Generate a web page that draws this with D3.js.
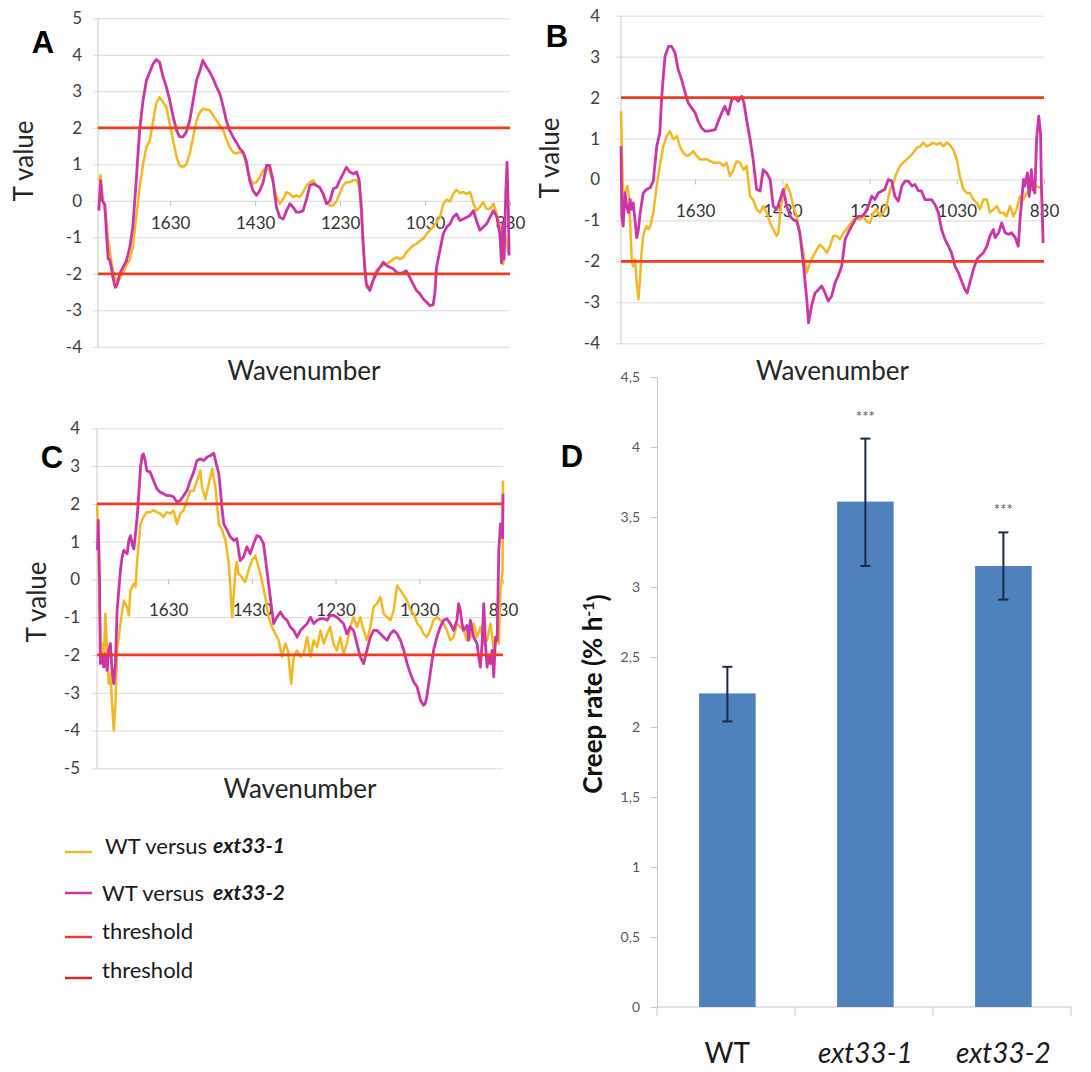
<!DOCTYPE html>
<html>
<head>
<meta charset="utf-8">
<script src="https://cdn.jsdelivr.net/npm/d3@7"></script>
<style>
  body { margin: 0; background: #fff; }
  svg { display: block; }
  text { font-family: Lato, "Open Sans", sans-serif; }
</style>
</head>
<body>
<div id="fig"></div>
<script>
// ---- data ----------------------------------------------------------------
// [wavenumber (cm-1), T value]
const aExt1 = [[1798,0.55],[1794,0.7],[1788,0],[1782,-0.36],[1776,-1.09],[1773,-1.27],[1769,-1.64],[1765,-1.9],[1758,-2.18],[1753,-2.23],[1747,-2.1],[1741,-1.96],[1733,-1.77],[1725,-1.6],[1718,-1.27],[1710,-0.45],[1702,0.37],[1694,1.0],[1686,1.47],[1678,1.65],[1670,2.2],[1663,2.66],[1655,2.84],[1647,2.7],[1639,2.57],[1631,2.1],[1623,1.65],[1615,1.2],[1608,0.97],[1600,0.92],[1592,1.0],[1584,1.29],[1576,1.75],[1568,2.2],[1560,2.43],[1553,2.52],[1545,2.5],[1537,2.48],[1529,2.34],[1521,2.2],[1513,2.07],[1505,1.93],[1498,1.7],[1490,1.47],[1482,1.33],[1474,1.29],[1466,1.33],[1458,1.29],[1451,1.0],[1443,0.65],[1435,0.47],[1427,0.51],[1419,0.65],[1411,0.83],[1403,0.92],[1396,0.83],[1388,0.51],[1380,0.1],[1372,-0.08],[1364,0.05],[1356,0.24],[1348,0.19],[1341,0.1],[1333,0.15],[1325,0.1],[1317,0.24],[1309,0.42],[1301,0.51],[1293,0.56],[1286,0.42],[1278,0.37],[1270,0.19],[1262,-0.04],[1254,-0.13],[1246,-0.13],[1238,0],[1231,0.19],[1223,0.42],[1215,0.51],[1207,0.51],[1199,0.56],[1191,0.56],[1185,0.37],[1180,-0.36],[1176,-1.18],[1172,-1.9],[1168,-2.37],[1160,-2.41],[1152,-2.14],[1144,-1.9],[1136,-1.82],[1128,-1.77],[1121,-1.73],[1113,-1.68],[1105,-1.6],[1097,-1.55],[1089,-1.6],[1081,-1.55],[1074,-1.41],[1066,-1.32],[1058,-1.22],[1050,-1.18],[1042,-1.09],[1034,-1.04],[1026,-0.9],[1019,-0.81],[1011,-0.72],[1003,-0.58],[995,-0.45],[987,-0.08],[979,0.03],[971,-0.02],[964,0.19],[956,0.3],[948,0.21],[940,0.24],[932,0.19],[924,0.24],[916,-0.08],[909,-0.27],[901,-0.17],[893,-0.04],[885,-0.22],[877,-0.22],[869,-0.08],[861,-0.36],[854,-0.72],[850,-1.45],[846,-1.73],[842,-0.9],[838,-1.1],[834,-1.45]];
const aExt2 = [[1798,-0.27],[1794,0.55],[1790,0],[1784,-0.1],[1780,-0.9],[1776,-1.6],[1773,-1.6],[1769,-1.8],[1765,-2.1],[1759,-2.37],[1755,-2.3],[1749,-2.0],[1741,-1.82],[1733,-1.64],[1725,-1.27],[1718,-0.72],[1710,0.56],[1702,1.93],[1694,2.75],[1686,3.3],[1678,3.53],[1670,3.76],[1663,3.87],[1655,3.8],[1647,3.4],[1639,3.12],[1631,2.75],[1623,2.3],[1615,1.93],[1608,1.76],[1600,1.75],[1592,1.88],[1584,2.2],[1576,2.75],[1568,3.3],[1560,3.57],[1553,3.85],[1545,3.67],[1537,3.53],[1529,3.35],[1521,3.12],[1513,2.93],[1505,2.57],[1498,2.2],[1490,1.93],[1482,1.75],[1474,1.6],[1466,1.43],[1458,1.33],[1451,1.1],[1443,0.56],[1435,0.28],[1427,0.15],[1419,0.28],[1411,0.51],[1403,0.97],[1396,0.97],[1388,0.56],[1380,-0.17],[1372,-0.45],[1364,-0.5],[1356,-0.27],[1348,-0.08],[1341,-0.17],[1333,-0.31],[1325,-0.31],[1317,-0.27],[1309,0.05],[1301,0.42],[1293,0.47],[1286,0.42],[1278,0.37],[1270,0.19],[1262,-0.08],[1254,0],[1246,0.33],[1238,0.37],[1231,0.56],[1223,0.74],[1215,0.92],[1207,0.79],[1199,0.74],[1191,0.79],[1185,0.56],[1180,-0.17],[1176,-1.09],[1172,-1.82],[1168,-2.28],[1160,-2.46],[1152,-2.18],[1144,-1.96],[1136,-1.82],[1128,-1.68],[1121,-1.77],[1113,-1.82],[1105,-1.86],[1097,-1.96],[1089,-2.0],[1081,-1.96],[1074,-1.92],[1066,-2.1],[1058,-2.28],[1050,-2.46],[1042,-2.55],[1034,-2.69],[1026,-2.78],[1019,-2.87],[1011,-2.85],[1007,-2.55],[1003,-1.82],[995,-1.36],[987,-0.9],[979,-0.72],[971,-0.63],[964,-0.45],[956,-0.36],[948,-0.54],[940,-0.5],[932,-0.45],[924,-0.4],[916,-0.27],[909,-0.54],[901,-0.81],[893,-0.72],[885,-0.63],[877,-0.45],[869,-0.27],[861,-0.45],[854,-0.9],[850,-1.7],[847,-0.6],[844,-1.6],[840,0.2],[837,1.05],[834,-0.2],[832,-1.5]];

const bExt1 = [[1800,1.67],[1798,0.73],[1795,-0.49],[1791,-0.33],[1785,-0.16],[1781,-0.49],[1778,-1.3],[1775,-2.03],[1772,-2.12],[1768,-1.95],[1764,-2.52],[1760,-2.93],[1756,-2.36],[1753,-1.79],[1749,-1.38],[1745,-1.22],[1741,-1.14],[1737,-1.22],[1733,-1.14],[1726,-0.81],[1718,-0.16],[1711,0.33],[1703,0.81],[1695,1.06],[1688,1.18],[1680,0.98],[1672,1.06],[1665,0.81],[1657,0.65],[1649,0.57],[1642,0.61],[1634,0.69],[1626,0.57],[1619,0.49],[1611,0.49],[1604,0.5],[1596,0.45],[1588,0.41],[1581,0.41],[1573,0.41],[1565,0.33],[1558,0.41],[1550,0.08],[1542,0.24],[1535,0.45],[1527,0.41],[1519,0.24],[1512,0.33],[1504,-0.41],[1497,-0.49],[1489,-0.73],[1481,-0.81],[1474,-0.65],[1466,-0.81],[1458,-1.06],[1451,-1.22],[1443,-1.38],[1439,-1.3],[1435,-0.81],[1428,-0.33],[1420,-0.12],[1412,-0.33],[1405,-0.65],[1397,-0.9],[1390,-1.3],[1382,-1.79],[1374,-2.28],[1367,-2.03],[1359,-1.87],[1351,-1.71],[1344,-1.59],[1336,-1.67],[1328,-1.79],[1321,-1.63],[1313,-1.38],[1305,-1.38],[1298,-1.46],[1290,-1.3],[1283,-1.22],[1275,-1.1],[1267,-0.98],[1260,-0.94],[1252,-0.98],[1244,-0.9],[1237,-1.02],[1229,-1.06],[1221,-0.81],[1214,-0.73],[1206,-0.9],[1198,-0.81],[1191,-0.65],[1183,-0.24],[1175,-0.08],[1168,0.16],[1160,0.33],[1153,0.41],[1145,0.49],[1137,0.57],[1130,0.65],[1122,0.77],[1114,0.81],[1107,0.9],[1099,0.81],[1091,0.85],[1084,0.9],[1076,0.85],[1068,0.9],[1061,0.81],[1053,0.9],[1046,0.85],[1038,0.73],[1030,0.49],[1023,0.08],[1015,-0.24],[1007,-0.33],[1000,-0.33],[992,-0.49],[984,-0.57],[977,-0.73],[969,-0.49],[961,-0.49],[954,-0.81],[946,-0.73],[938,-0.65],[931,-0.81],[923,-0.81],[916,-0.9],[908,-0.65],[900,-0.9],[893,-0.73],[885,-0.41],[877,-0.49],[870,-0.33],[862,-0.24],[855,-0.24],[847,-0.16],[839,-0.2],[836,-0.16],[832,-1.3]];
const bExt2 = [[1800,0.81],[1798,-0.9],[1795,-1.14],[1791,-0.33],[1787,-0.65],[1783,-0.81],[1779,-0.49],[1776,-0.73],[1772,-0.57],[1768,-0.98],[1764,-1.42],[1760,-1.22],[1756,-0.81],[1749,-0.33],[1741,-0.24],[1733,-0.2],[1726,-0.04],[1718,0.81],[1711,1.14],[1707,1.95],[1703,2.52],[1699,3.01],[1691,3.25],[1684,3.25],[1676,3.09],[1669,2.69],[1661,2.44],[1653,2.12],[1646,1.87],[1638,1.75],[1630,1.63],[1623,1.42],[1615,1.26],[1607,1.18],[1600,1.18],[1592,1.2],[1584,1.22],[1577,1.42],[1569,1.63],[1562,1.79],[1554,1.59],[1546,1.95],[1539,1.99],[1531,1.91],[1523,2.03],[1518,1.87],[1512,1.46],[1504,0.98],[1497,0.49],[1489,-0.24],[1481,-0.28],[1474,0.24],[1466,0.16],[1458,0],[1451,-0.65],[1443,-0.73],[1435,-0.49],[1428,-0.24],[1420,-0.65],[1412,-0.9],[1405,-0.98],[1397,-1.02],[1390,-1.3],[1382,-2.03],[1374,-2.93],[1370,-3.5],[1363,-3.09],[1355,-2.77],[1347,-2.69],[1340,-2.6],[1332,-2.77],[1325,-2.97],[1317,-2.85],[1309,-2.52],[1302,-2.36],[1294,-2.12],[1286,-1.46],[1279,-1.3],[1271,-1.14],[1263,-0.98],[1256,-0.9],[1248,-0.9],[1240,-0.81],[1233,-0.65],[1225,-0.41],[1218,-0.49],[1210,-0.33],[1202,-0.28],[1195,-0.24],[1187,0],[1179,-0.04],[1172,-0.41],[1164,-0.53],[1156,-0.16],[1149,-0.04],[1141,-0.04],[1133,-0.16],[1126,-0.12],[1118,-0.28],[1111,-0.28],[1103,-0.49],[1095,-0.49],[1088,-0.49],[1080,-0.61],[1072,-0.81],[1065,-1.22],[1057,-1.46],[1049,-1.63],[1042,-1.79],[1034,-2.12],[1026,-2.28],[1019,-2.48],[1011,-2.69],[1006,-2.77],[1000,-2.52],[992,-2.2],[984,-1.95],[977,-1.87],[969,-1.79],[961,-1.63],[954,-1.38],[946,-1.22],[942,-1.42],[934,-1.3],[927,-1.06],[919,-1.3],[912,-1.34],[904,-1.3],[896,-1.42],[889,-1.63],[885,-0.98],[877,0],[874,-0.16],[868,0.16],[864,-0.41],[859,0.24],[855,-0.24],[851,-0.33],[847,0.98],[842,1.55],[838,1.14],[836,-0.08],[832,-1.55]];

const cExt1 = [[1800,2.0],[1797,1.12],[1794,-0.82],[1790,-2.05],[1787,-1.7],[1784,-2.23],[1780,-0.91],[1776,-1.88],[1772,-2.76],[1768,-2.5],[1764,-3.29],[1760,-4.0],[1756,-3.29],[1752,-1.88],[1744,-1.17],[1736,-0.56],[1728,-0.73],[1724,-0.95],[1720,-0.29],[1712,-0.11],[1708,-0.2],[1704,0.5],[1696,1.47],[1689,1.65],[1681,1.78],[1673,1.78],[1665,1.83],[1657,1.78],[1649,1.74],[1641,1.65],[1633,1.78],[1625,1.74],[1617,1.83],[1609,1.47],[1601,1.74],[1593,1.83],[1585,2.09],[1577,2.35],[1569,2.35],[1561,2.62],[1553,2.88],[1549,2.44],[1541,2.13],[1533,2.53],[1525,2.93],[1517,2.44],[1509,1.47],[1501,1.3],[1493,1.03],[1485,0.41],[1477,-1.0],[1469,0.24],[1466,0.46],[1462,0.15],[1454,0.06],[1446,-0.07],[1438,0.24],[1430,0.5],[1422,0.63],[1414,0.33],[1406,-0.03],[1398,-0.47],[1390,-1.0],[1382,-1.26],[1374,-1.44],[1366,-1.61],[1358,-2.05],[1350,-1.7],[1344,-1.88],[1336,-2.76],[1330,-2.05],[1322,-1.88],[1314,-2.05],[1306,-1.97],[1298,-1.53],[1290,-2.05],[1282,-1.61],[1274,-1.79],[1266,-1.35],[1258,-1.7],[1250,-1.44],[1243,-1.26],[1235,-1.7],[1227,-1.88],[1219,-1.53],[1211,-1.97],[1203,-1.7],[1195,-1.26],[1187,-1.0],[1179,-1.26],[1171,-1.0],[1163,-1.35],[1155,-1.61],[1147,-1.26],[1139,-0.73],[1131,-0.64],[1123,-0.47],[1115,-0.91],[1107,-1.0],[1099,-1.08],[1091,-0.82],[1083,-0.16],[1075,-0.29],[1067,-0.42],[1059,-0.56],[1051,-0.82],[1043,-0.91],[1035,-1.17],[1027,-1.26],[1020,-1.44],[1012,-1.53],[1004,-1.35],[996,-1.08],[988,-1.0],[980,-1.08],[972,-1.17],[964,-1.35],[956,-1.61],[948,-1.53],[940,-1.17],[932,-1.26],[924,-1.35],[916,-1.61],[908,-1.53],[900,-1.17],[892,-1.53],[884,-1.26],[876,-1.7],[868,-1.61],[860,-1.17],[852,-1.88],[844,-1.53],[840,-1.7],[836,-0.29],[831,0.24],[830,2.62]];
const cExt2 = [[1799,0.77],[1797,1.56],[1794,0.06],[1792,-2.23],[1788,-1.97],[1784,-2.32],[1780,-1.97],[1776,-2.41],[1772,-1.88],[1768,-1.7],[1764,-2.41],[1760,-2.76],[1756,-2.23],[1752,-0.82],[1748,-0.29],[1744,0.24],[1740,0.59],[1736,0.77],[1732,0.72],[1728,0.68],[1724,1.03],[1720,1.16],[1716,0.94],[1712,0.81],[1708,1.21],[1704,1.65],[1700,2.27],[1696,2.97],[1692,3.28],[1689,3.32],[1685,3.15],[1681,2.88],[1673,2.84],[1665,2.62],[1657,2.4],[1649,2.31],[1641,2.27],[1633,2.22],[1625,2.22],[1617,2.18],[1609,2.05],[1601,2.09],[1593,2.22],[1585,2.35],[1577,2.62],[1569,2.84],[1561,3.15],[1553,3.19],[1545,3.15],[1537,3.24],[1529,3.28],[1521,3.34],[1515,3.06],[1509,2.8],[1505,2.35],[1501,1.83],[1497,1.47],[1489,1.3],[1481,1.12],[1473,1.03],[1466,1.08],[1458,0.5],[1450,0.59],[1442,0.86],[1434,0.68],[1426,0.94],[1418,1.16],[1410,1.12],[1402,0.94],[1394,0.24],[1386,-0.47],[1378,-1.17],[1370,-1.0],[1362,-0.86],[1354,-1.0],[1346,-1.08],[1338,-1.26],[1330,-1.35],[1322,-1.53],[1314,-1.35],[1306,-1.26],[1298,-1.17],[1290,-1.0],[1282,-1.17],[1274,-1.08],[1266,-1.04],[1258,-1.04],[1250,-1.08],[1243,-0.95],[1235,-0.95],[1227,-1.0],[1219,-1.08],[1211,-1.17],[1203,-1.44],[1195,-1.26],[1187,-1.35],[1179,-1.7],[1171,-2.05],[1163,-2.23],[1155,-1.88],[1147,-1.53],[1139,-1.35],[1131,-1.35],[1123,-1.44],[1115,-1.53],[1107,-1.61],[1099,-1.44],[1091,-1.35],[1083,-1.44],[1075,-1.61],[1067,-1.88],[1059,-2.23],[1051,-2.5],[1043,-2.72],[1035,-2.85],[1027,-3.2],[1020,-3.33],[1016,-3.29],[1012,-3.11],[1004,-2.5],[996,-1.88],[988,-1.53],[980,-1.26],[972,-1.08],[964,-1.04],[956,-1.17],[948,-1.35],[940,-1.08],[936,-0.64],[932,-0.82],[928,-1.17],[924,-1.35],[916,-1.22],[912,-1.61],[908,-1.08],[900,-1.53],[892,-1.7],[888,-2.05],[884,-2.32],[880,-1.7],[876,-0.64],[872,-1.7],[868,-2.32],[864,-2.05],[860,-2.23],[856,-1.88],[852,-2.58],[848,-1.53],[844,-1.61],[840,0.77],[836,1.47],[831,1.1],[830,2.27]];

const thresholds = [2, -2];
const wavenumberTicks = [1630, 1430, 1230, 1030, 830];
const wavenumberRange = [1800, 830];

// panel D
const genotypes = ["WT", "ext33-1", "ext33-2"];
const creepRate = [2.24, 3.61, 3.15];
const creepLow  = [2.04, 3.15, 2.91];
const creepHigh = [2.43, 4.06, 3.39];
const signif    = ["", "***", "***"];
const creepTicks = [0, 0.5, 1, 1.5, 2, 2.5, 3, 3.5, 4, 4.5];

const legendItems = [
  { label: "WT versus", mutant: "ext33-1", color: "#f2b824" },
  { label: "WT versus", mutant: "ext33-2", color: "#cc35a6" },
  { label: "threshold", mutant: "", color: "#e63b3b" },
  { label: "threshold", mutant: "", color: "#d42b22" }
];

// ---- drawing -----------------------------------------------------------
const W = 1091, H = 1072;
const svg = d3.select("#fig").append("svg")
  .attr("width", W).attr("height", H);
svg.append("rect").attr("width", W).attr("height", H).attr("fill", "#fff");

const grid = "#d9d9d9";
const ext1Color = "#f2b824", ext2Color = "#cc35a6", threshColor = "#ee3b24";

function tPanel(p) {
  const x = d3.scaleLinear().domain(wavenumberRange).range([p.left, p.right]);
  const y = d3.scaleLinear().domain(p.yDomain).range([p.bottom, p.top]);
  const g = svg.append("g");

  // y gridlines + labels
  g.append("g")
    .attr("transform", "translate(" + p.left + ",0)")
    .call(d3.axisLeft(y)
      .tickValues(d3.range(p.yDomain[0], p.yDomain[1] + 1))
      .tickFormat(d => String(d))
      .tickSize(-(p.right - p.left))
      .tickPadding(p.yPad))
    .call(a => a.select(".domain").remove())
    .call(a => a.selectAll(".tick line").attr("x1", -5).attr("stroke", grid))
    .call(a => a.selectAll(".tick text")
      .attr("fill", "#404040").style("font-size", "17px")
      .style("font-family", "Lato, sans-serif"));

  // left axis line
  g.append("line")
    .attr("x1", p.left).attr("x2", p.left)
    .attr("y1", y(p.yDomain[1])).attr("y2", y(p.yDomain[0]))
    .attr("stroke", "#c8c8c8");

  // wavenumber axis sitting on T = 0
  g.append("g")
    .attr("transform", "translate(0," + y(0) + ")")
    .call(d3.axisBottom(x).tickValues(wavenumberTicks).tickFormat(d => String(d))
      .tickSize(5).tickPadding(p.xPad))
    .call(a => a.select(".domain").remove())
    .call(a => a.selectAll(".tick line").attr("stroke", "#bdbdbd"))
    .call(a => a.selectAll(".tick text")
      .attr("fill", "#333").style("font-size", "17px")
      .style("font-family", "Lato, sans-serif"));

  const line = d3.line().x(d => x(d[0])).y(d => y(d[1]));
  g.append("path").datum(p.ext1).attr("d", line)
    .attr("fill", "none").attr("stroke", ext1Color).attr("stroke-width", 2.5)
    .attr("stroke-linejoin", "round");
  g.append("path").datum(p.ext2).attr("d", line)
    .attr("fill", "none").attr("stroke", ext2Color).attr("stroke-width", 2.8)
    .attr("stroke-linejoin", "round");

  g.selectAll(".thr").data(thresholds).enter().append("line")
    .attr("x1", x(wavenumberRange[0])).attr("x2", x(wavenumberRange[1]))
    .attr("y1", d => y(d)).attr("y2", d => y(d))
    .attr("stroke", threshColor).attr("stroke-width", 2.8);

  g.append("text")
    .attr("x", (p.left + p.right) / 2).attr("y", p.titleY)
    .attr("text-anchor", "middle").attr("fill", "#262626")
    .style("font-size", "26px").text("Wavenumber");

  g.append("text")
    .attr("transform", "translate(" + p.tx + "," + p.ty + ")rotate(-90)")
    .attr("text-anchor", "middle").attr("dy", "0.35em").attr("fill", "#262626")
    .style("font-size", "26px").text("T value");

  g.append("text")
    .attr("x", p.lx).attr("y", p.ly).attr("text-anchor", "middle")
    .style("font-family", "'Liberation Sans', Arial, sans-serif")
    .style("font-weight", "bold").style("font-size", "31px")
    .text(p.name);
}

tPanel({ name: "A", ext1: aExt1, ext2: aExt2, yDomain: [-4, 5],
  left: 98, right: 510, top: 18.3, bottom: 346.8, yPad: 16, xPad: 11,
  titleY: 380, tx: 24, ty: 161, lx: 43, ly: 53 });
tPanel({ name: "B", ext1: bExt1, ext2: bExt2, yDomain: [-4, 4],
  left: 621, right: 1044, top: 15.7, bottom: 343.3, yPad: 21, xPad: 20,
  titleY: 380, tx: 550, ty: 158, lx: 557, ly: 47 });
tPanel({ name: "C", ext1: cExt1, ext2: cExt2, yDomain: [-5, 4],
  left: 97, right: 503, top: 428.3, bottom: 768.3, yPad: 17, xPad: 20,
  titleY: 798, tx: 37, ty: 602, lx: 52, ly: 468 });

// ---- legend ------------------------------------------------------------
const legY = [846, 893, 931, 970];
const legLineY = [852, 893, 937, 978];
const leg = svg.append("g");
legendItems.forEach((d, i) => {
  leg.append("line").attr("x1", 65).attr("x2", 92)
    .attr("y1", legLineY[i]).attr("y2", legLineY[i])
    .attr("stroke", d.color).attr("stroke-width", 2.5);
  leg.append("text").attr("x", i === 0 ? 105 : 102).attr("y", legY[i]).attr("dy", "0.35em")
    .attr("fill", "#1a1a1a").style("font-size", "22px").text(d.label);
  if (d.mutant) {
    leg.append("text").attr("x", 213).attr("y", legY[i]).attr("dy", "0.35em")
      .attr("fill", "#1a1a1a").style("font-size", "21px")
      .style("font-weight", "bold").style("font-style", "italic").text(d.mutant);
  }
});

// ---- panel D: creep rate bars ---------------------------------------
const dLeft = 657, dRight = 1071, dBottom = 1007, dTop = 377;
const yD = d3.scaleLinear().domain([0, 4.5]).range([dBottom, dTop]);
const slot = d3.scaleBand().domain(genotypes).range([dLeft, dRight]);

const dg = svg.append("g");
dg.append("g")
  .attr("transform", "translate(" + dLeft + ",0)")
  .call(d3.axisLeft(yD).tickValues(creepTicks).tickSize(6).tickPadding(11)
    .tickFormat(d => String(d).replace(".", ",")))
  .call(a => a.select(".domain").attr("stroke", "#c8c8c8"))
  .call(a => a.selectAll(".tick line").attr("stroke", "#c8c8c8"))
  .call(a => a.selectAll(".tick text").attr("fill", "#595959")
    .style("font-size", "14px").style("font-family", "Lato, sans-serif"));

dg.append("line").attr("x1", dLeft).attr("x2", dRight)
  .attr("y1", dBottom).attr("y2", dBottom).attr("stroke", "#c8c8c8");
dg.selectAll(".ct").data(genotypes.concat(["end"])).enter().append("line")
  .attr("x1", (d, i) => dLeft + i * slot.step()).attr("x2", (d, i) => dLeft + i * slot.step())
  .attr("y1", dBottom).attr("y2", dBottom + 9).attr("stroke", "#c8c8c8");

const barW = slot.bandwidth() * 0.41;
const cx = g => slot(g) + slot.bandwidth() * 0.51;

dg.selectAll(".bar").data(genotypes).enter().append("rect")
  .attr("x", d => cx(d) - barW / 2).attr("width", barW)
  .attr("y", (d, i) => yD(creepRate[i]))
  .attr("height", (d, i) => dBottom - yD(creepRate[i]))
  .attr("fill", "#4f81bd");

const err = dg.selectAll(".err").data(genotypes).enter().append("g")
  .attr("stroke", "#1b2a45").attr("stroke-width", 2);
err.append("line").attr("x1", d => cx(d)).attr("x2", d => cx(d))
  .attr("y1", (d, i) => yD(creepLow[i])).attr("y2", (d, i) => yD(creepHigh[i]));
err.append("line").attr("x1", d => cx(d) - 5).attr("x2", d => cx(d) + 5)
  .attr("y1", (d, i) => yD(creepLow[i])).attr("y2", (d, i) => yD(creepLow[i]));
err.append("line").attr("x1", d => cx(d) - 5).attr("x2", d => cx(d) + 5)
  .attr("y1", (d, i) => yD(creepHigh[i])).attr("y2", (d, i) => yD(creepHigh[i]));

dg.selectAll(".sig").data(genotypes).enter().append("text")
  .attr("x", d => cx(d)).attr("y", (d, i) => yD(creepHigh[i]) - 17)
  .attr("text-anchor", "middle").attr("fill", "#595959")
  .style("font-size", "15px").text((d, i) => signif[i]);

dg.selectAll(".cat").data(genotypes).enter().append("text")
  .attr("x", d => cx(d)).attr("y", 1063)
  .attr("text-anchor", "middle").attr("fill", "#1a1a1a")
  .style("font-size", "28px")
  .style("font-style", d => d === "WT" ? "normal" : "italic")
  .text(d => d);

const yl = dg.append("text")
  .attr("transform", "translate(593,694)rotate(-90)")
  .attr("text-anchor", "middle").attr("dy", "0.35em")
  .attr("fill", "#111").style("font-size", "26px").style("font-weight", "bold");
yl.append("tspan").text("Creep rate (% h");
yl.append("tspan").attr("dy", "-0.5em").style("font-size", "16px").text("-1");
yl.append("tspan").attr("dy", "0.5em").text(")");

dg.append("text").attr("x", 572).attr("y", 467).attr("text-anchor", "middle")
  .style("font-family", "'Liberation Sans', Arial, sans-serif")
  .style("font-weight", "bold").style("font-size", "31px").text("D");
</script>
</body>
</html>
